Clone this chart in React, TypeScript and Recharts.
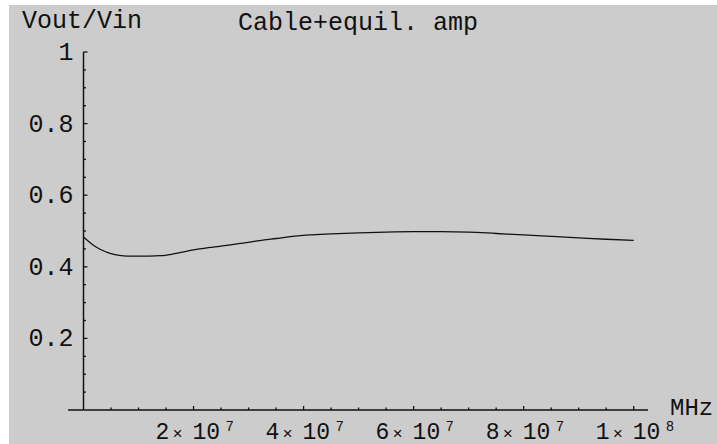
import React from 'react';
import { LineChart, Line, XAxis, YAxis, ReferenceLine, Label } from 'recharts';

// frequency (Hz) and gain
const freqs = [0, 1e6, 2e6, 3e6, 4e6, 5e6, 6.5e6, 8e6, 10e6, 12e6, 14e6, 16e6, 18e6, 20e6, 23e6, 26e6, 29e6, 32e6, 35e6, 38e6, 41e6, 45e6, 50e6, 55e6, 60e6, 65e6, 70e6, 75e6, 80e6, 85e6, 90e6, 95e6, 100e6];
const gains = [0.483, 0.47, 0.458, 0.449, 0.442, 0.437, 0.432, 0.43, 0.43, 0.43, 0.431, 0.435, 0.441, 0.447, 0.454, 0.46, 0.466, 0.473, 0.479, 0.485, 0.489, 0.492, 0.495, 0.497, 0.498, 0.498, 0.497, 0.493, 0.489, 0.485, 0.481, 0.477, 0.474];

const xTicks = [5e6, 10e6, 15e6, 20e6, 25e6, 30e6, 35e6, 40e6, 45e6, 50e6, 55e6, 60e6, 65e6, 70e6, 75e6, 80e6, 85e6, 90e6, 95e6, 100e6];
const xMajor = [20e6, 40e6, 60e6, 80e6, 100e6];
const xMantissa = ['2', '4', '6', '8', '1'];
const xExponent = ['7', '7', '7', '7', '8'];

const yTicks = [0.05, 0.1, 0.15, 0.2, 0.25, 0.3, 0.35, 0.4, 0.45, 0.5, 0.55, 0.6, 0.65, 0.7, 0.75, 0.8, 0.85, 0.9, 0.95, 1];
const yMajor = [0.2, 0.4, 0.6, 0.8, 1];
const yLabels = ['0.2', '0.4', '0.6', '0.8', '1'];

const data = freqs.map((f, i) => ({ f, v: gains[i] }));

const FONT = "'Courier New', 'Liberation Mono', monospace";
const INK = '#111';

const XTick = (props: any) => {
  const { x, y, payload } = props;
  const idx = xMajor.findIndex(m => Math.abs(m - payload.value) < 1);
  const len = idx >= 0 ? 4 : 2.5;
  return (
    <g>
      <line x1={x} x2={x} y1={y} y2={y - len} stroke={INK} strokeWidth={1.3} />
      {idx >= 0 && (
        <g fontFamily={FONT} fill={INK}>
          <text x={x - 38} y={y + 29} fontSize={23}>{xMantissa[idx]}</text>
          <text x={x - 21} y={y + 29} fontSize={17}>×</text>
          <text x={x - 1} y={y + 29} fontSize={23}>10</text>
          <text x={x + 32} y={y + 21} fontSize={14}>{xExponent[idx]}</text>
        </g>
      )}
    </g>
  );
};

const YTick = (props: any) => {
  const { x, y, payload } = props;
  const idx = yMajor.findIndex(m => Math.abs(m - payload.value) < 1e-6);
  const len = idx >= 0 ? 4 : 2.5;
  return (
    <g>
      <line x1={x} x2={x + len} y1={y} y2={y} stroke={INK} strokeWidth={1.3} />
      {idx >= 0 && (
        <text x={x - 10} y={y + 8} textAnchor="end" fontFamily={FONT} fontSize={25} fill={INK}>
          {yLabels[idx]}
        </text>
      )}
    </g>
  );
};

export default function App() {
  return (
    <div style={{ position: 'absolute', left: 0, top: 0, width: 717, height: 444, background: '#fff' }}>
      <div style={{ position: 'absolute', left: 9, top: 5, width: 708, height: 439, background: '#cccccc' }} />
      <svg width={717} height={444} style={{ position: 'absolute', left: 0, top: 0 }}>
        <text x={238} y={30} fontFamily={FONT} fontSize={25} fill={INK}>Cable+equil. amp</text>
      </svg>
      <div style={{ position: 'absolute', left: 0, top: 0 }}>
        <LineChart width={717} height={444} data={data} margin={{ top: 52, right: 69, bottom: 0, left: 0 }}>
          <XAxis
            dataKey="f"
            type="number"
            domain={[0, 102.6e6]}
            allowDataOverflow
            ticks={xTicks}
            interval={0}
            height={34}
            tickSize={0}
            tickMargin={0}
            tickLine={false}
            axisLine={{ stroke: INK, strokeWidth: 1.5 }}
            tick={<XTick />}
          >
            <Label
              content={(p: any) => (
                <text x={p.viewBox.x + p.viewBox.width + 22} y={p.viewBox.y + 5} fontFamily={FONT} fontSize={24} fill={INK}>
                  MHz
                </text>
              )}
            />
          </XAxis>
          <YAxis
            type="number"
            domain={[0, 1]}
            ticks={yTicks}
            interval={0}
            width={83.5}
            tickSize={0}
            tickMargin={0}
            tickLine={false}
            axisLine={{ stroke: INK, strokeWidth: 1.5 }}
            tick={<YTick />}
          >
            <Label
              content={(p: any) => (
                <text x={22} y={p.viewBox.y - 24} fontFamily={FONT} fontSize={25} fill={INK}>
                  Vout/Vin
                </text>
              )}
            />
          </YAxis>
          <ReferenceLine
            segment={[{ x: -2.8e6, y: 0 }, { x: 0, y: 0 }]}
            ifOverflow="visible"
            stroke={INK}
            strokeWidth={1.5}
          />
          <Line
            type="monotone"
            dataKey="v"
            stroke={INK}
            strokeWidth={1.3}
            dot={false}
            isAnimationActive={false}
          />
        </LineChart>
      </div>
    </div>
  );
}
